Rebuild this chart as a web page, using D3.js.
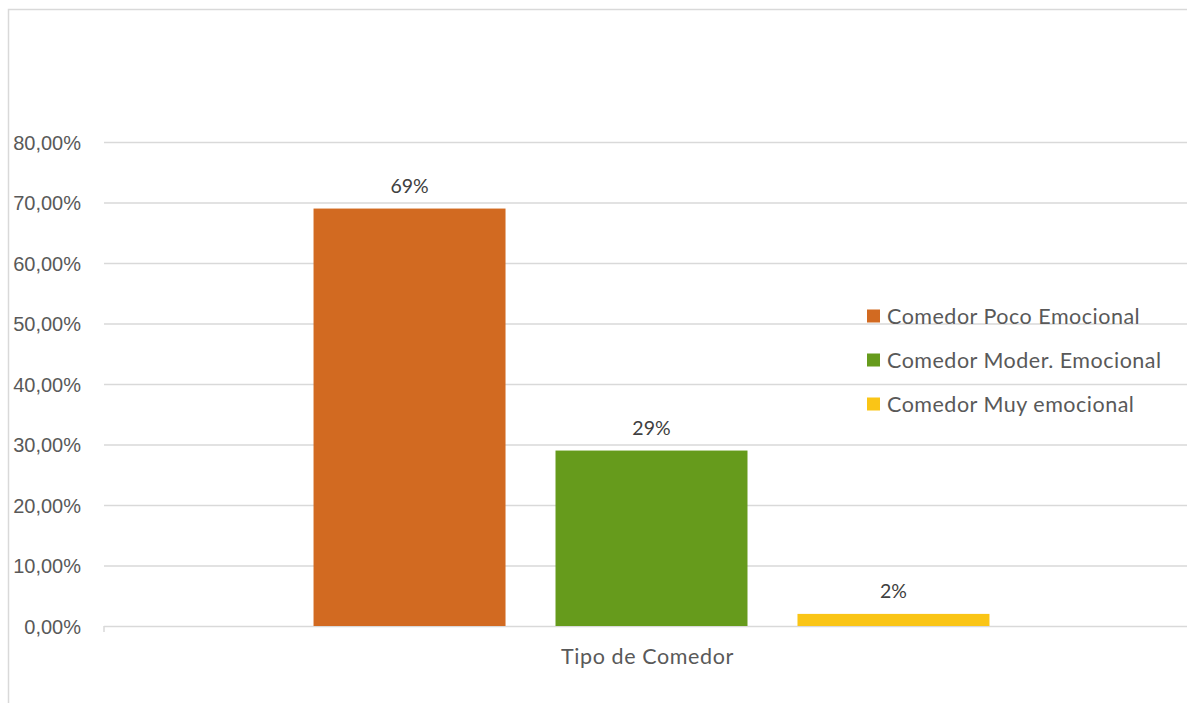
<!DOCTYPE html>
<html><head><meta charset="utf-8">
<script src="https://cdn.jsdelivr.net/npm/d3@7/dist/d3.min.js"></script>
<style>
html,body{margin:0;padding:0;background:#fff;overflow:hidden}
svg{display:block;font-family:"Lato","Open Sans",sans-serif}
</style></head>
<body>
<svg id="chart" width="1187" height="703"></svg>
<script>
const categories = ["Tipo de Comedor"];
const series = ["Comedor Poco Emocional", "Comedor Moder. Emocional", "Comedor Muy emocional"];
const values = [0.69, 0.29, 0.02];
const valueLabels = ["69%", "29%", "2%"];
const colors = ["#D26A21", "#669B1C", "#FAC516"];
const yTicks = [0, 0.1, 0.2, 0.3, 0.4, 0.5, 0.6, 0.7, 0.8];

(function () {
const svg = d3.select("#chart");
const textColor = "#595959";
const gridColor = "#d9d9d9";

svg.append("rect").attr("x", 8.5).attr("y", 9.5).attr("width", 1300).attr("height", 800)
  .attr("fill", "none").attr("stroke", gridColor).attr("stroke-width", 1.5);

const pLeft = 104, pRight = 1199, pTop = 142, pBottom = 626;
const y = d3.scaleLinear().domain([0, 0.8]).range([pBottom, pTop]);
const x0 = d3.scaleBand().domain(categories).range([pLeft, pRight]).paddingInner(0).paddingOuter(0.31);
const x1 = d3.scaleBand().domain(series).range([0, x0.bandwidth()]).paddingInner(0.2066).paddingOuter(0);

const fmt = v => d3.format(".2f")(v * 100).replace(".", ",") + "%";
const yAxis = d3.axisLeft(y).tickValues(yTicks).tickSize(-(pRight - pLeft)).tickFormat(fmt);
const gy = svg.append("g").attr("transform", `translate(${pLeft},0)`).call(yAxis);
gy.select(".domain").remove();
gy.selectAll(".tick line").attr("stroke", gridColor).attr("stroke-width", 1.5);
gy.selectAll(".tick text").attr("fill", textColor).style("font-size", "20px")
  .attr("text-anchor", "end").attr("x", -23).attr("dy", "0.35em");

svg.append("line").attr("x1", pLeft).attr("x2", pLeft).attr("y1", pBottom).attr("y2", pBottom + 6)
  .attr("stroke", gridColor).attr("stroke-width", 1.5);

const g = svg.append("g").attr("transform", `translate(${x0(categories[0])},0)`);
g.selectAll("rect.bar").data(series).join("rect").attr("class", "bar")
  .attr("x", d => x1(d)).attr("width", x1.bandwidth())
  .attr("y", (d, i) => y(values[i])).attr("height", (d, i) => y(0) - y(values[i]))
  .attr("fill", (d, i) => colors[i]);
g.selectAll("text.lbl").data(series).join("text").attr("class", "lbl")
  .attr("x", d => x1(d) + x1.bandwidth() / 2)
  .attr("y", (d, i) => y(values[i]) - 16)
  .attr("text-anchor", "middle").attr("fill", "#404040").style("font-size", "19.5px")
  .text((d, i) => valueLabels[i]);

svg.append("text").attr("x", x0(categories[0]) + x0.bandwidth() / 2 - 4).attr("y", 664)
  .attr("text-anchor", "middle").attr("fill", textColor).style("font-size", "21.5px")
  .style("letter-spacing", "0.6px")
  .text(categories[0]);

const lg = svg.append("g").attr("transform", "translate(867,316)");
const items = lg.selectAll("g").data(series).join("g").attr("transform", (d, i) => `translate(0,${i * 44})`);
items.append("rect").attr("x", 0).attr("y", -6.5).attr("width", 13).attr("height", 13).attr("fill", (d, i) => colors[i]);
items.append("text").attr("x", 20).attr("y", 0).attr("dy", "0.35em").attr("fill", textColor)
  .style("font-size", "21.5px").style("letter-spacing", "0.5px").text(d => d);
})();
</script>
</body></html>
